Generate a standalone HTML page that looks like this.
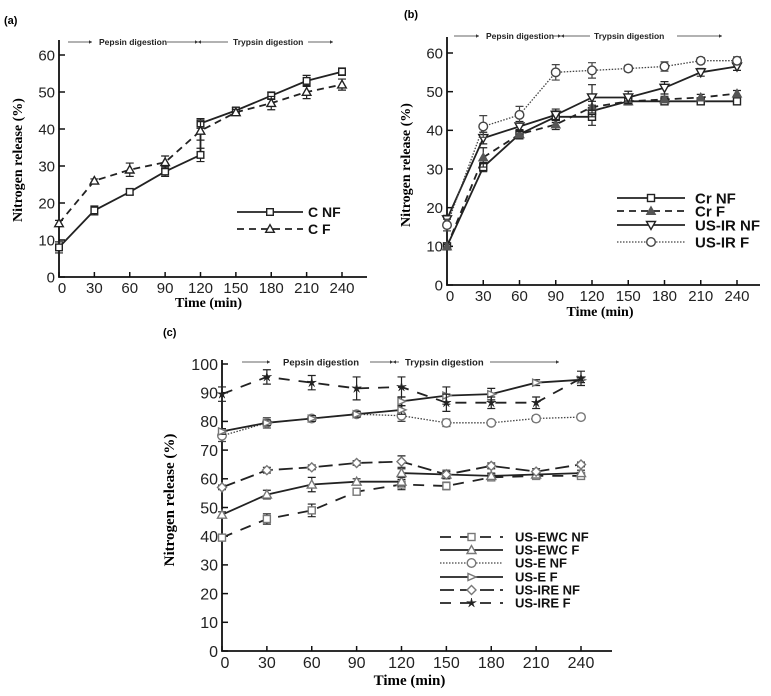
<!DOCTYPE html>
<html><head><meta charset="utf-8">
<style>
html,body{margin:0;padding:0;background:#fff;}
svg{display:block;}
text{font-family:"Liberation Sans",sans-serif;}
.ttl{font-family:"Liberation Serif",serif;font-weight:bold;}
</style></head>
<body>
<svg id="fig" width="771" height="696" viewBox="0 0 771 696" xmlns="http://www.w3.org/2000/svg"></svg>
<script>
const timeTicks=[0,30,60,90,120,150,180,210,240];
const yTicksAB=[0,10,20,30,40,50,60];
const yTicksC=[0,10,20,30,40,50,60,70,80,90,100];

// Panel (a)
const aCNF_t=[0,30,60,90,120,120,150,180,210,240];
const aCNF_v=[8,18,23,28.5,33,41.5,45,49,53,55.5];
const aCNF_e=[1.5,1.2,0.8,1.3,1.8,1.3,0.8,1,1.5,1];
const aCF_t=[0,30,60,90,120,150,180,210,240];
const aCF_v=[14.5,26,29,31,39.5,44.5,47,50,52];
const aCF_e=[0.8,0.5,1.8,1.7,2.5,0.8,1.8,1.8,1.5];

// Panel (b)
const bCrNF_t=[0,30,60,90,120,120,150,180,210,240];
const bCrNF_v=[10,30.5,39,43.5,43.5,45,47.5,47.5,47.5,47.5];
const bCrNF_e=[0.5,1.2,1.2,1.5,2.2,1.5,0.8,0.8,0.8,0.8];
const bCrF_t=[0,30,60,90,120,150,180,210,240];
const bCrF_v=[10,33,39,41.5,46,47.5,48,48.5,49.5];
const bCrF_e=[0.5,2.5,1.2,1.3,1.5,0.8,0.8,0.8,0.8];
const bIRNF_t=[0,30,60,90,120,150,180,210,240];
const bIRNF_v=[17,38,41,44,48.5,48.5,51,55,56.5];
const bIRNF_e=[1,1.5,1.3,1.5,3.3,1.6,1.6,1,1];
const bIRF_t=[0,30,60,90,120,150,180,210,240];
const bIRF_v=[15.5,41,44,55,55.5,56,56.5,58,58];
const bIRF_e=[1.5,2.8,2.2,2,2,0.8,1.2,0.8,1];

// Panel (c)
const cEWCNF_t=[0,30,60,90,120,150,180,210,240];
const cEWCNF_v=[39.5,46,49,55.5,58,57.5,60.5,61,61];
const cEWCNF_e=[1,1.8,2.2,1,1.8,1.3,0.8,0.8,0.8];
const cEWCF_t=[0,30,60,90,120,120,150,180,210,240];
const cEWCF_v=[47.5,54.5,58,59,59,62,61.5,61,61.5,62];
const cEWCF_e=[1,1.5,2.5,1,1.5,1.5,1,1,1,1];
const cENF_t=[0,30,60,90,120,150,180,210,240];
const cENF_v=[75,79.5,81,82.5,82,79.5,79.5,81,81.5];
const cENF_e=[2,1.8,1,1,2,1.3,0.8,1,0.8];
const cEF_t=[0,30,60,90,120,120,150,180,210,240];
const cEF_v=[76.5,79.5,81,82.5,84,87,89,89.5,93.5,94.5];
const cEF_e=[1,1,1,1,1.5,1.5,3,2,1,1];
const cIRENF_t=[0,30,60,90,120,150,180,210,240];
const cIRENF_v=[57,63,64,65.5,66,61.5,64.5,62.5,65];
const cIRENF_e=[0.8,1,0.8,0.8,2,1.5,1,1,0.8];
const cIREF_t=[0,30,60,90,120,150,180,210,240];
const cIREF_v=[89.5,95.5,93.5,91.5,92,86.5,86.5,86.5,95];
const cIREF_e=[2.5,2.5,2.5,4,3.5,3,2,2,2.5];

const NS="http://www.w3.org/2000/svg";
const svg=document.getElementById('fig');
function mk(tag,attrs,parent){const e=document.createElementNS(NS,tag);for(const k in attrs)e.setAttribute(k,attrs[k]);(parent||svg).appendChild(e);return e;}

function marker(g,type,x,y,r,color){
  let e;
  if(type==='square'){e=mk('rect',{x:x-r,y:y-r,width:2*r,height:2*r,fill:'#fff',stroke:color,'stroke-width':1.4},g);}
  else if(type==='circle'){e=mk('circle',{cx:x,cy:y,r:r+0.8,fill:'#fff',stroke:color,'stroke-width':1.4},g);}
  else if(type==='tri'){e=mk('polygon',{points:`${x},${y-r-1} ${x-r-1},${y+r} ${x+r+1},${y+r}`,fill:'#fff',stroke:color,'stroke-width':1.4},g);}
  else if(type==='trifill'){e=mk('polygon',{points:`${x},${y-r-1} ${x-r-1},${y+r} ${x+r+1},${y+r}`,fill:color,stroke:color,'stroke-width':1},g);}
  else if(type==='tridown'){e=mk('polygon',{points:`${x},${y+r+1} ${x-r-1},${y-r} ${x+r+1},${y-r}`,fill:'#fff',stroke:color,'stroke-width':1.4},g);}
  else if(type==='triright'){e=mk('polygon',{points:`${x+r+1},${y} ${x-r},${y-r} ${x-r},${y+r}`,fill:'#fff',stroke:color,'stroke-width':1.4},g);}
  else if(type==='diamond'){e=mk('polygon',{points:`${x},${y-r-1} ${x+r+1},${y} ${x},${y+r+1} ${x-r-1},${y}`,fill:'#fff',stroke:color,'stroke-width':1.4},g);}
  else {let p=[];for(let i=0;i<10;i++){const a=-Math.PI/2+i*Math.PI/5;const rr=i%2?r*0.45:r+1.5;p.push((x+rr*Math.cos(a)).toFixed(1)+','+(y+rr*Math.sin(a)).toFixed(1));}
    e=mk('polygon',{points:p.join(' '),fill:'#222',stroke:'#222','stroke-width':0.5},g);}
  
  
}

function panel(cfg){
  const X=t=>cfg.x0+(cfg.x1-cfg.x0)*t/240;
  const Y=v=>cfg.y0-(cfg.y0-cfg.yTop)*v/cfg.ymax;
  const g=mk('g',{});
  
  
  const lab=mk('text',{x:cfg.lx,y:cfg.ly,'font-size':11,'font-weight':'bold'},g);lab.textContent=cfg.label;
  
  
  const ax=mk('path',{d:`M${cfg.x0},${cfg.axTop} V${cfg.y0} H${cfg.axRight}`,fill:'none',stroke:'#111','stroke-width':1.8},g);
  
  
  cfg.yTicks.forEach(v=>{
    mk('line',{x1:cfg.x0,x2:cfg.x0+6,y1:Y(v),y2:Y(v),stroke:'#111','stroke-width':1.5},g);
    const t=mk('text',{x:cfg.x0-4,y:Y(v)+cfg.fs*0.36,'font-size':cfg.fs,'text-anchor':'end',fill:'#222'},g);t.textContent=v;
    
    
  });
  timeTicks.forEach(v=>{
    mk('line',{x1:X(v),x2:X(v),y1:cfg.y0,y2:cfg.y0-5,stroke:'#111','stroke-width':1.5},g);
    const t=mk('text',{x:X(v)+(v===0?3:0),y:cfg.y0+cfg.fs+1,'font-size':cfg.fs,'text-anchor':'middle',fill:'#222'},g);t.textContent=v;
    
    
  });
  const xt=mk('text',{x:(cfg.x0+cfg.x1)/2+8,y:cfg.xtY,'font-size':cfg.tfs,'text-anchor':'middle',class:'ttl'},g);xt.textContent='Time (min)';
  
  
  const yt=mk('text',{x:0,y:0,'font-size':cfg.tfs,'text-anchor':'middle',class:'ttl',transform:`translate(${cfg.ytX},${cfg.ytY}) rotate(-90)`},g);yt.textContent='Nitrogen release (%)';
  
  
  const ay=cfg.annY, af=cfg.afs;
  const an=mk('g',{},g);
  
  
  const seg=(a,b,dir)=>{mk('line',{x1:a,x2:b,y1:ay,y2:ay,stroke:'#333','stroke-width':0.8},an);
    const tip=dir>0?b:a;mk('polygon',{points:`${tip},${ay} ${tip-3*dir},${ay-1.8} ${tip-3*dir},${ay+1.8}`,fill:'#333'},an);};
  const A=cfg.ann;
  seg(A[0],A[1],1);
  const t1=mk('text',{x:A[2],y:ay+af*0.35,'font-size':af,'font-weight':'bold',fill:'#222'},an);t1.textContent='Pepsin digestion';
  seg(A[3],A[4],1);seg(A[4],A[5],-1);
  const t2=mk('text',{x:A[6],y:ay+af*0.35,'font-size':af,'font-weight':'bold',fill:'#222'},an);t2.textContent='Trypsin  digestion';
  seg(A[7],A[8],1);
  cfg.series.forEach((s,i)=>{
    const sg=mk('g',{},g);
    
    
    const d=s.t.map((t,k)=>(k?'L':'M')+X(t).toFixed(1)+','+Y(s.v[k]).toFixed(1)).join(' ');
    const ln=mk('path',{d:d,fill:'none',stroke:s.color,'stroke-width':s.w||1.8,'stroke-dasharray':s.dash||'none'},sg);
    
    
    s.t.forEach((t,k)=>{
      const x=X(t),e=s.e[k];
      const eb=mk('path',{d:`M${x},${Y(s.v[k]-e)} V${Y(s.v[k]+e)} M${x-4},${Y(s.v[k]-e)} h8 M${x-4},${Y(s.v[k]+e)} h8`,stroke:s.color,'stroke-width':1.2,fill:'none'},sg);
      
      
      marker(sg,s.mk,x,Y(s.v[k]),cfg.mr,s.mcolor||s.color);
    });
    const ly=cfg.leg.y[i];
    const le=mk('g',{},g);
    
    
    mk('line',{x1:cfg.leg.x1,x2:cfg.leg.x2,y1:ly,y2:ly,stroke:s.color,'stroke-width':s.w||1.8,'stroke-dasharray':s.dash||'none'},le);
    marker(le,s.mk,(cfg.leg.x1+cfg.leg.x2)/2,ly,cfg.mr,s.mcolor||s.color);
    const lt=mk('text',{x:cfg.leg.tx,y:ly+cfg.leg.fs*0.36,'font-size':cfg.leg.fs,'font-weight':'bold',fill:'#111'},le);lt.textContent=s.label;
  });
}

panel({name:'panel-a',label:'(a)',lx:4,ly:24,x0:59,x1:342,y0:277,yTop:55,ymax:60,axTop:40,axRight:367,yTicks:yTicksAB,fs:15,tfs:14,
  xtY:307,ytX:22,ytY:160,annY:42,afs:8.5,ann:[68,92,99,167,198,228,233,308,333],mr:3.3,
  leg:{x1:237,x2:303,tx:308,fs:14,y:[212,229]},
  series:[
   {id:'c-nf',label:'C NF',t:aCNF_t,v:aCNF_v,e:aCNF_e,mk:'square',color:'#222'},
   {id:'c-f',label:'C F',t:aCF_t,v:aCF_v,e:aCF_e,mk:'tri',color:'#222',dash:'7,5'}]});

panel({name:'panel-b',label:'(b)',lx:404,ly:18,x0:447,x1:737,y0:285,yTop:53,ymax:60,axTop:37,axRight:760,yTicks:yTicksAB,fs:15,tfs:14,
  xtY:316,ytX:410,ytY:165,annY:36,afs:8.5,ann:[454,479,486,553,561,590,594,677,722],mr:3.5,
  leg:{x1:617,x2:685,tx:695,fs:15,y:[198,211,225,242]},
  series:[
   {id:'cr-nf',label:'Cr NF',t:bCrNF_t,v:bCrNF_v,e:bCrNF_e,mk:'square',color:'#222'},
   {id:'cr-f',label:'Cr F',t:bCrF_t,v:bCrF_v,e:bCrF_e,mk:'trifill',color:'#222',mcolor:'#555',dash:'7,5'},
   {id:'us-ir-nf',label:'US-IR NF',t:bIRNF_t,v:bIRNF_v,e:bIRNF_e,mk:'tridown',color:'#222'},
   {id:'us-ir-f',label:'US-IR F',t:bIRF_t,v:bIRF_v,e:bIRF_e,mk:'circle',color:'#444',dash:'1.5,1.5',w:1.3}]});

panel({name:'panel-c',label:'(c)',lx:163,ly:336,x0:222,x1:581,y0:651,yTop:364,ymax:100,axTop:360,axRight:612,yTicks:yTicksC,fs:16,tfs:15,
  xtY:685,ytX:174,ytY:500,annY:362,afs:9.5,ann:[242,270,283,370,393,399,405,490,559],mr:3.5,
  leg:{x1:440,x2:503,tx:515,fs:13,y:[537,550,563,577,590,603]},
  series:[
   {id:'us-ewc-nf',label:'US-EWC NF',t:cEWCNF_t,v:cEWCNF_v,e:cEWCNF_e,mk:'square',color:'#222',mcolor:'#777',dash:'11,9'},
   {id:'us-ewc-f',label:'US-EWC F',t:cEWCF_t,v:cEWCF_v,e:cEWCF_e,mk:'tri',color:'#222',mcolor:'#777'},
   {id:'us-e-nf',label:'US-E NF',t:cENF_t,v:cENF_v,e:cENF_e,mk:'circle',color:'#444',mcolor:'#777',dash:'1.5,1.5',w:1.3},
   {id:'us-e-f',label:'US-E F',t:cEF_t,v:cEF_v,e:cEF_e,mk:'triright',color:'#222',mcolor:'#777'},
   {id:'us-ire-nf',label:'US-IRE NF',t:cIRENF_t,v:cIRENF_v,e:cIRENF_e,mk:'diamond',color:'#222',mcolor:'#777',dash:'14,6'},
   {id:'us-ire-f',label:'US-IRE F',t:cIREF_t,v:cIREF_v,e:cIREF_e,mk:'star',color:'#222',dash:'11,9'}]});
</script>
</body></html>
